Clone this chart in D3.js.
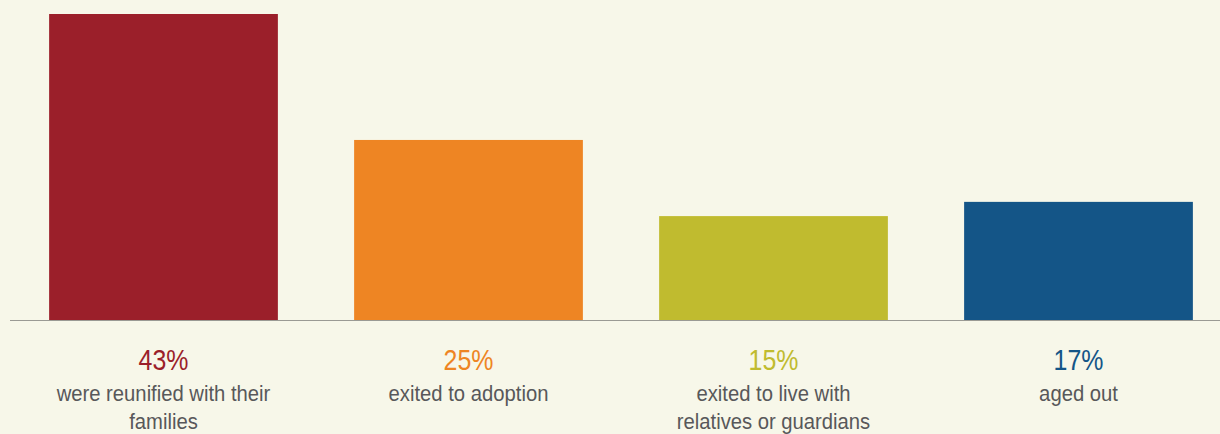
<!DOCTYPE html>
<html>
<head>
<meta charset="utf-8">
<script src="https://cdn.jsdelivr.net/npm/d3@7"></script>
<style>
	html, body { margin: 0; padding: 0; background: #f7f7e9; }
	svg { display: block; }
	text { font-family: "Liberation Sans", "Noto Sans", sans-serif; }
</style>
</head>
<body>
<svg id="chart"></svg>
<script>
	// values; labels show them rounded
	var outcomes = ["reunified", "adoption", "relatives", "aged_out"];
	var shares = [43.0, 25.3, 14.6, 16.6];
	var captions = [
		["were reunified with their", "families"],
		["exited to adoption"],
		["exited to live with", "relatives or guardians"],
		["aged out"]
	];
	var bar_colors = ["#9b1f2a", "#ee8523", "#c0bb2f", "#145587"];

	var w = 1220;
	var h = 434;
	var baseline_y = 320;
	var top_y = 14;

	var svg = d3.select("#chart")
		.attr("width", w)
		.attr("height", h);

	var xscale = d3.scaleBand()
		.domain(outcomes)
		.range([11, 1231])
		.paddingInner(0.25)
		.paddingOuter(0.125);

	var yscale = d3.scaleLinear()
		.domain([0, 43])
		.range([baseline_y, top_y]);

	function cx(d){ return xscale(d) + xscale.bandwidth() / 2; }

	// bars
	svg.selectAll("rect.bar")
		.data(outcomes)
		.enter().append("rect")
			.attr("class", "bar")
			.attr("x", function(d){ return xscale(d); })
			.attr("y", function(d, i){ return yscale(shares[i]); })
			.attr("width", xscale.bandwidth())
			.attr("height", function(d, i){ return yscale(0) - yscale(shares[i]); })
			.attr("fill", function(d, i){ return bar_colors[i]; });

	// baseline
	svg.append("line")
		.attr("x1", 10)
		.attr("x2", w)
		.attr("y1", yscale(0) + 0.5)
		.attr("y2", yscale(0) + 0.5)
		.attr("stroke", "#9a9a94")
		.attr("stroke-width", 1.2);

	// percent labels (squeezed a bit to mimic the condensed face)
	svg.selectAll("text.pct")
		.data(outcomes)
		.enter().append("text")
			.attr("class", "pct")
			.attr("transform", function(d){ return "translate(" + cx(d) + "," + (yscale(0) + 50) + ") scale(0.86,1)"; })
			.attr("text-anchor", "middle")
			.attr("fill", function(d, i){ return bar_colors[i]; })
			.style("font-size", "29px")
			.text(function(d, i){ return d3.format(".0f")(shares[i]) + "%"; });

	// captions
	var cap = svg.selectAll("text.caption")
		.data(outcomes)
		.enter().append("text")
			.attr("class", "caption")
			.attr("transform", function(d){ return "translate(" + cx(d) + "," + (yscale(0) + 81) + ") scale(0.9,1)"; })
			.attr("text-anchor", "middle")
			.attr("fill", "#58585a")
			.style("font-size", "22.5px");

	cap.each(function(d, i){
		var t = d3.select(this);
		captions[i].forEach(function(line, j){
			t.append("tspan")
				.attr("x", 0)
				.attr("dy", j == 0 ? 0 : 28)
				.text(line);
		});
	});
</script>
</body>
</html>
